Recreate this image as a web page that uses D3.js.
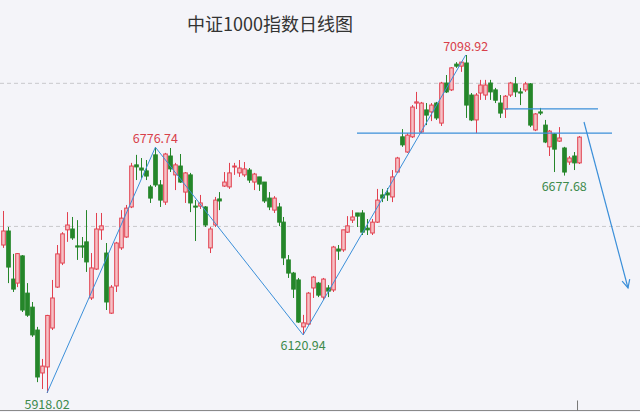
<!DOCTYPE html>
<html><head><meta charset="utf-8">
<script src="https://cdn.jsdelivr.net/npm/d3@7"></script>
<style>
html,body{margin:0;padding:0;background:#f4f4f9;}
svg{display:block;}
</style></head>
<body>
<svg id="chart" width="640" height="412"></svg>
<script>
const title = "中证1000指数日线图";
// daily candles: open, high, low, close
const opens  = [6435,6484,6316,6302,6397,6267,6218,6138,5988,6009,6145,6288,6372,6488,6491,6432,6432,6446,6250,6351,6488,6407,6197,6292,6425,6463,6568,6715,6704,6694,6638,6750,6645,6585,6746,6680,6711,6620,6680,6571,6571,6568,6425,6505,6596,6641,6638,6708,6687,6680,6697,6655,6673,6655,6599,6557,6568,6515,6383,6337,6313,6149,6159,6285,6302,6253,6285,6278,6421,6418,6480,6522,6547,6547,6494,6477,6515,6610,6617,6603,6690,6813,6760,6813,6931,6830,6907,6900,6931,6861,7001,6977,7067,7060,7071,6959,6872,6966,6959,7001,6977,6931,6910,6959,6998,6970,6977,6998,6837,6900,6854,6778,6823,6798,6774,6725,6746,6722];
const highs  = [6554,6498,6404,6407,6400,6302,6236,6149,6037,6191,6313,6435,6480,6550,6533,6522,6463,6557,6407,6547,6547,6442,6295,6446,6557,6575,6722,6750,6739,6732,6645,6776.74,6662,6757,6774,6722,6753,6690,6687,6592,6610,6571,6498,6603,6620,6690,6722,6722,6732,6725,6704,6687,6673,6655,6620,6606,6582,6533,6400,6341,6320,6191,6271,6327,6306,6320,6295,6432,6435,6488,6536,6557,6547,6557,6526,6526,6631,6631,6634,6697,6743,6840,6826,6924,6970,6935,6931,6931,6935,7005,7029,7057,7074,7074,7098.92,6966,6966,7012,7012,7012,6984,6959,6959,7005,7022,6984,7005,7001,6896,6914,6872,6837,6826,6847,6778,6746,6760,6816];
const lows   = [6425,6302,6271,6288,6201,6184,6114,5956,5932,5918.02,6138,6285,6365,6446,6453,6383,6390,6341,6243,6348,6453,6208,6194,6271,6418,6460,6564,6662,6669,6662,6582,6638,6568,6575,6690,6627,6652,6582,6550,6449,6561,6498,6407,6498,6557,6638,6631,6680,6673,6673,6652,6627,6624,6582,6557,6547,6501,6365,6320,6250,6163,6120.94,6156,6250,6253,6243,6253,6271,6383,6411,6477,6512,6498,6470,6470,6470,6512,6585,6589,6585,6687,6778,6757,6809,6910,6826,6854,6868,6872,6851,6966,6973,7054,7040,6879,6868,6826,6942,6942,6942,6931,6879,6879,6952,6952,6924,6970,6847,6833,6889,6791,6746,6690,6795,6677.68,6715,6697,6718];
const closes = [6484,6358,6281,6405,6208,6190,6121,5974,6012,6189,6250,6404,6474,6505,6460,6428,6428,6376,6355,6491,6502,6236,6288,6442,6529,6564,6711,6708,6697,6676,6599,6645,6592,6753,6701,6715,6655,6687,6582,6568,6582,6505,6491,6592,6589,6655,6687,6711,6704,6701,6662,6683,6648,6589,6568,6599,6515,6390,6337,6281,6166,6163,6267,6323,6260,6316,6274,6428,6414,6488,6502,6533,6536,6480,6488,6515,6592,6599,6610,6673,6739,6785,6819,6917,6935,6931,6889,6924,6879,7001,6970,7054,7060,7074,6924,6872,6959,6994,6994,6970,6941,6896,6955,7001,6970,6966,6998,6854,6893,6896,6795,6833,6770,6809,6690,6739,6722,6812];
// swing points: candle index and value
const swingIdx = [9, 31, 61, 94];
const swingVal = [5918.02, 6776.74, 6120.94, 7098.92];
const swingLabels = ["5918.02", "6776.74", "6120.94", "7098.92"];
const lastLowIdx = 114, lastLowVal = 6677.68, lastLowLabel = "6677.68";
const gridLevels = [6500, 7000];
const supportVal = 6826, resistVal = 6911;

const svg = d3.select("#chart");
const W = 640, H = 412;
const n = opens.length;
const x = d3.scaleLinear().domain([0, n - 1]).range([2.7, 579]);
const y = d3.scaleLinear().domain([5918.02, 7098.92]).range([393, 55]);
const bw = 3.6;

svg.append("rect").attr("width", W).attr("height", H).attr("fill", "#f4f4f9");

// grid
svg.selectAll("line.grid").data(gridLevels).enter().append("line")
  .attr("x1", 0).attr("x2", W).attr("y1", d => y(d)).attr("y2", d => y(d))
  .attr("stroke", "#c8c8cc").attr("stroke-width", 1).attr("stroke-dasharray", "4,3");

// bottom axis
const xAxis = d3.axisBottom(d3.scaleLinear().domain([0, n - 1]).range([2.7, 579]))
  .tickValues([n - 1 - 0.4]).tickSize(-10).tickFormat("");
const ax = svg.append("g").attr("transform", `translate(0,${H - 1.5})`).call(xAxis);
ax.select(".domain").attr("stroke", "#8a8a8a").attr("d", `M0,0H${W}`);
ax.selectAll(".tick line").attr("stroke", "#777");

// candles
const data = d3.range(n).map(i => ({i, o: opens[i], h: highs[i], l: lows[i], c: closes[i]}));
const up = d => d.c >= d.o;
const g = svg.append("g");
g.selectAll("line.wick").data(data).enter().append("line")
  .attr("x1", d => Math.round(x(d.i)) + 0.5).attr("x2", d => Math.round(x(d.i)) + 0.5)
  .attr("y1", d => y(d.h)).attr("y2", d => y(d.l))
  .attr("stroke", d => up(d) ? "#e2404f" : "#25862a").attr("stroke-width", 1);
g.selectAll("rect.body").data(data).enter().append("rect")
  .attr("x", d => Math.round(x(d.i)) + 0.5 - bw / 2)
  .attr("y", d => y(Math.max(d.o, d.c)))
  .attr("width", bw)
  .attr("height", d => Math.max(1, Math.abs(y(d.o) - y(d.c))))
  .attr("fill", d => up(d) ? "#f6c0c5" : "#25862a")
  .attr("stroke", d => up(d) ? "#e2404f" : "#25862a").attr("stroke-width", 1);

// zigzag trend line
const line = d3.line().x(d => x(d[0])).y(d => y(d[1]));
svg.append("path").datum(swingIdx.map((d, k) => [d, swingVal[k]]))
  .attr("d", line).attr("fill", "none").attr("stroke", "#3b8fd9").attr("stroke-width", 1);

// horizontal levels
svg.append("line").attr("x1", 357).attr("x2", 612).attr("y1", y(supportVal)).attr("y2", y(supportVal))
  .attr("stroke", "#3b8fd9").attr("stroke-width", 1.3);
svg.append("line").attr("x1", 505).attr("x2", 598).attr("y1", y(resistVal)).attr("y2", y(resistVal))
  .attr("stroke", "#3b8fd9").attr("stroke-width", 1.3);

// projected down arrow
const ax1 = 584, ay1 = 122, ax2 = 628, ay2 = 288;
svg.append("line").attr("x1", ax1).attr("y1", ay1).attr("x2", ax2).attr("y2", ay2)
  .attr("stroke", "#3b8fd9").attr("stroke-width", 1.2);
const ang = Math.atan2(ay2 - ay1, ax2 - ax1);
const hl = 9, ha = 0.45;
svg.append("path")
  .attr("d", `M${ax2 - hl * Math.cos(ang - ha)},${ay2 - hl * Math.sin(ang - ha)}L${ax2},${ay2}L${ax2 - hl * Math.cos(ang + ha)},${ay2 - hl * Math.sin(ang + ha)}`)
  .attr("fill", "none").attr("stroke", "#3b8fd9").attr("stroke-width", 1.2);

// labels
const font = "'Noto Sans CJK SC', 'Noto Sans', sans-serif";
const labelPos = [
  {dy: 15.5, col: "#3d8a4c"},
  {dy: -4.5, col: "#d8404a"},
  {dy: 15.5, col: "#3d8a4c"},
  {dy: -4.5, col: "#d8404a"}
];
swingIdx.forEach((d, k) => {
  svg.append("text").attr("x", x(d)).attr("y", y(swingVal[k]) + labelPos[k].dy)
    .attr("text-anchor", "middle").attr("font-family", font).attr("font-size", 12.5)
    .attr("fill", labelPos[k].col).text(swingLabels[k]);
});
svg.append("text").attr("x", x(lastLowIdx)).attr("y", y(lastLowVal) + 15.5)
  .attr("text-anchor", "middle").attr("font-family", font).attr("font-size", 12.5)
  .attr("fill", "#3d8a4c").text(lastLowLabel);

// title
svg.append("text").attr("x", 270).attr("y", 31).attr("text-anchor", "middle")
  .attr("font-family", font).attr("font-size", 18).attr("fill", "#333")
  .text(title);
</script>
</body></html>
